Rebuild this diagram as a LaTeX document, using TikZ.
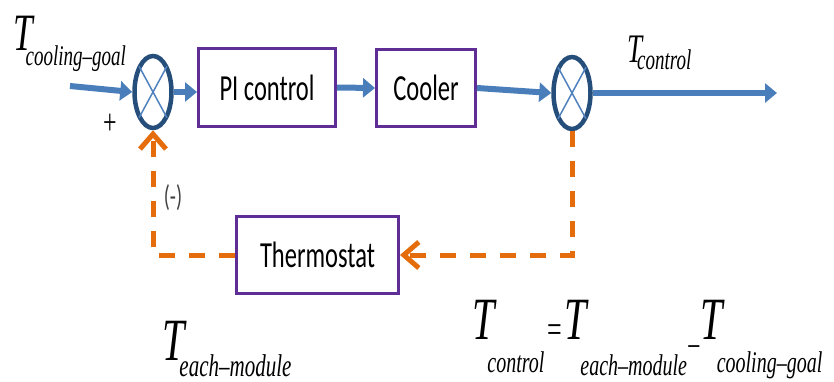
\documentclass[tikz,border=0pt]{standalone}
\usepackage{fontspec}
\setmainfont{Carlito}
\newfontfamily\lab{Liberation Serif}
\usetikzlibrary{shapes.geometric,arrows.meta}
\definecolor{arrowblue}{RGB}{74,126,187}
\definecolor{ringblue}{RGB}{38,78,122}
\definecolor{xblue}{RGB}{80,130,190}
\definecolor{boxpurple}{RGB}{95,45,150}
\definecolor{fborange}{RGB}{228,108,10}
\newcommand{\Tl}[5]{{\lab\fontsize{#1}{#1}\selectfont\itshape T\kern#3pt\raisebox{-#4pt}{\fontsize{#2}{#2}\selectfont #5}}}
\newcommand{\stretchy}[1]{\scalebox{1}[1.5]{#1}}
\begin{document}
\begin{tikzpicture}[x=1pt,y=-1pt,
  blk/.style={draw=boxpurple,line width=3pt,fill=white,inner sep=0pt,font=\fontsize{24.5}{29}\selectfont},
  sumj/.style={ellipse,draw=ringblue,line width=4.5pt,fill=white,minimum width=37pt,minimum height=72pt,inner sep=0pt},
  xcross/.style={draw=xblue,line width=1.5pt,shorten <=1.5pt,shorten >=1.5pt},
  fwd/.style={draw=arrowblue,line width=6pt,-{Triangle[length=12pt,width=19pt]}},
  fb/.style={draw=fborange,line width=5pt,dash pattern=on 16pt off 14pt,-{Straight Barb[length=15pt,width=26pt]}},
  lbl/.style={inner sep=0pt,anchor=base west}
]
\useasboundingbox (0,0) rectangle (834,381);
% summing junctions
\node[sumj] (c1) at (153,92) {};
\node[sumj] (c2) at (572,93) {};
\draw[xcross] (c1.north west) -- (c1.south east);
\draw[xcross] (c1.north east) -- (c1.south west);
\draw[xcross] (c2.north west) -- (c2.south east);
\draw[xcross] (c2.north east) -- (c2.south west);
% blocks
\node[blk,minimum width=137pt,minimum height=78pt] (pi) at (267,87.5) {\stretchy{PI control}};
\node[blk,minimum width=99pt,minimum height=77pt] (cool) at (426,88) {\stretchy{Cooler}};
\node[blk,minimum width=162pt,minimum height=77pt] (th) at (317.5,255) {\stretchy{Thermostat}};
% forward path
\coordinate (in) at (70,86);
\coordinate (out) at (777,95);
\draw[fwd] (in) -- (c1.west);
\draw[fwd] (c1.east) -- (c1.east -| pi.west);
\draw[fwd] (pi.east) -- (cool.west);
\draw[fwd] (cool.east) -- (c2.west);
\draw[fwd] (c2.east) -- (c2.east -| out);
% feedback path
\draw[fb] (th.west) -- (th.west -| c1.south) -- (c1.south);
\draw[fb] (c2.south) |- (th.east);
% labels
\node[lbl] (tgoal) at (13,50) {\stretchy{\Tl{35}{19}{-7}{10}{cooling–goal}}};
\node (plus) at (110,124) {\stretchy{\lab\fontsize{24}{24}\selectfont +}};
\node[text=darkgray] (minus) at (173,198) {\stretchy{\fontsize{20}{20}\selectfont(-)}};
\node[lbl] (tctrl) at (627,62) {\stretchy{\Tl{27}{19}{-5}{5}{control}}};
\node[lbl] (teach) at (162,360) {\stretchy{\Tl{40}{21}{-5}{11}{each–module}}};
\node[lbl] (formula) at (472,339) {\stretchy{\lab\Tl{40}{20}{-7}{22}{control}\kern3pt\raisebox{-2pt}{\fontsize{26}{26}\selectfont=}\kern2pt\Tl{40}{20}{-6}{24}{each–module}\raisebox{-13pt}{\fontsize{24}{24}\selectfont −}\Tl{40}{20}{-6}{22}{cooling–goal}}};
\end{tikzpicture}
\end{document}
